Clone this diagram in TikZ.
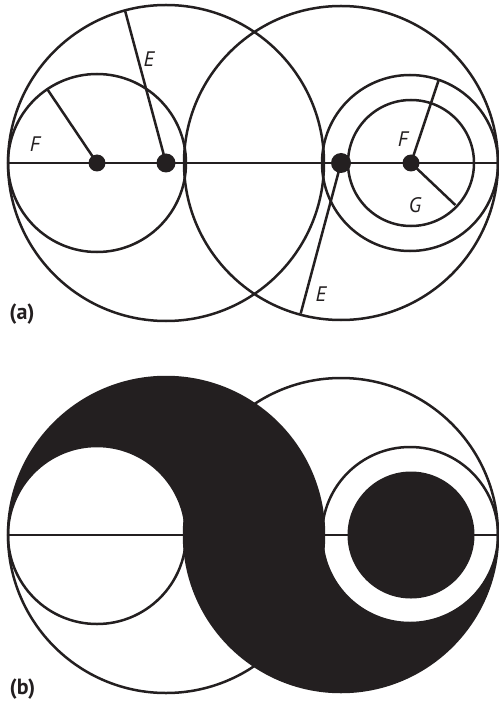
\documentclass[tikz,border=0pt]{standalone}
\usepackage{fontspec}
\setmainfont{PT Sans}
\definecolor{ink}{HTML}{231F20}
\begin{document}
\begin{tikzpicture}[x=1pt,y=-1pt,line width=2.5pt,color=ink,
  lbl/.style={font=\fontsize{21}{23}\selectfont\itshape,text=ink,inner sep=0pt},
  tag/.style={font=\fontsize{22}{24}\selectfont\bfseries,text=ink,inner sep=0pt},
  dot/.style={circle,fill=ink,draw=none,inner sep=0pt,minimum size=#1}]
\useasboundingbox (0,0) rectangle (498,703);
% ---------------- (a) ----------------
\draw (166,163) circle[radius=158pt];
\draw (341,163) circle[radius=157pt];
\draw (97,163) circle[radius=89pt];
\draw (410,163) circle[radius=88pt];
\draw (411,163) circle[radius=63pt];
\coordinate (La) at (8,163);
\coordinate (Ra) at (498,163);
\draw (La) -- (Ra);
\node[dot=17pt] (F1) at (97,163) {};
\node[dot=19pt] (E1) at (166,163) {};
\node[dot=20pt] (E2) at (341,163) {};
\node[dot=17pt] (F2) at (411,163) {};
\coordinate (f1) at (47.5,89.5);
\coordinate (e1) at (125,10.5);
\coordinate (f2) at (438.7,80);
\coordinate (g2) at (455.3,205);
\coordinate (e2) at (300.7,313.5);
\draw (F1.center) -- (f1);
\draw (E1.center) -- (e1);
\draw (F2.center) -- (f2);
\draw (F2.center) -- (g2);
\draw (E2.center) -- (e2);
\node[lbl] (lE1) at (149,59.5) {E};
\node[lbl] (lF1) at (35,144.5) {F};
\node[lbl] (lF2) at (403,139.5) {F};
\node[lbl] (lG2) at (415,205.5) {G};
\node[lbl] (lE2) at (321,294.5) {E};
\node[tag] (ta) at (22,314) {(a)};
% ---------------- (b) ----------------
\fill[even odd rule]
  (8,535) arc[start angle=180,end angle=0,radius=158pt] -- cycle
  (8,535) arc[start angle=180,end angle=0,radius=89pt] -- cycle
  (184,535) arc[start angle=180,end angle=360,radius=157pt] -- cycle
  (322,535) arc[start angle=180,end angle=360,radius=88pt] -- cycle;
\fill (411,535) circle[radius=63.5pt];
\draw (166,535) circle[radius=158pt];
\draw (341,535) circle[radius=157pt];
\draw (97,535) circle[radius=89pt];
\draw (410,535) circle[radius=88pt];
\coordinate (Lb) at (8,535);
\coordinate (Rb) at (498,535);
\draw (Lb) -- (Rb);
\node[tag] (tb) at (22.5,689) {(b)};
\end{tikzpicture}
\end{document}
